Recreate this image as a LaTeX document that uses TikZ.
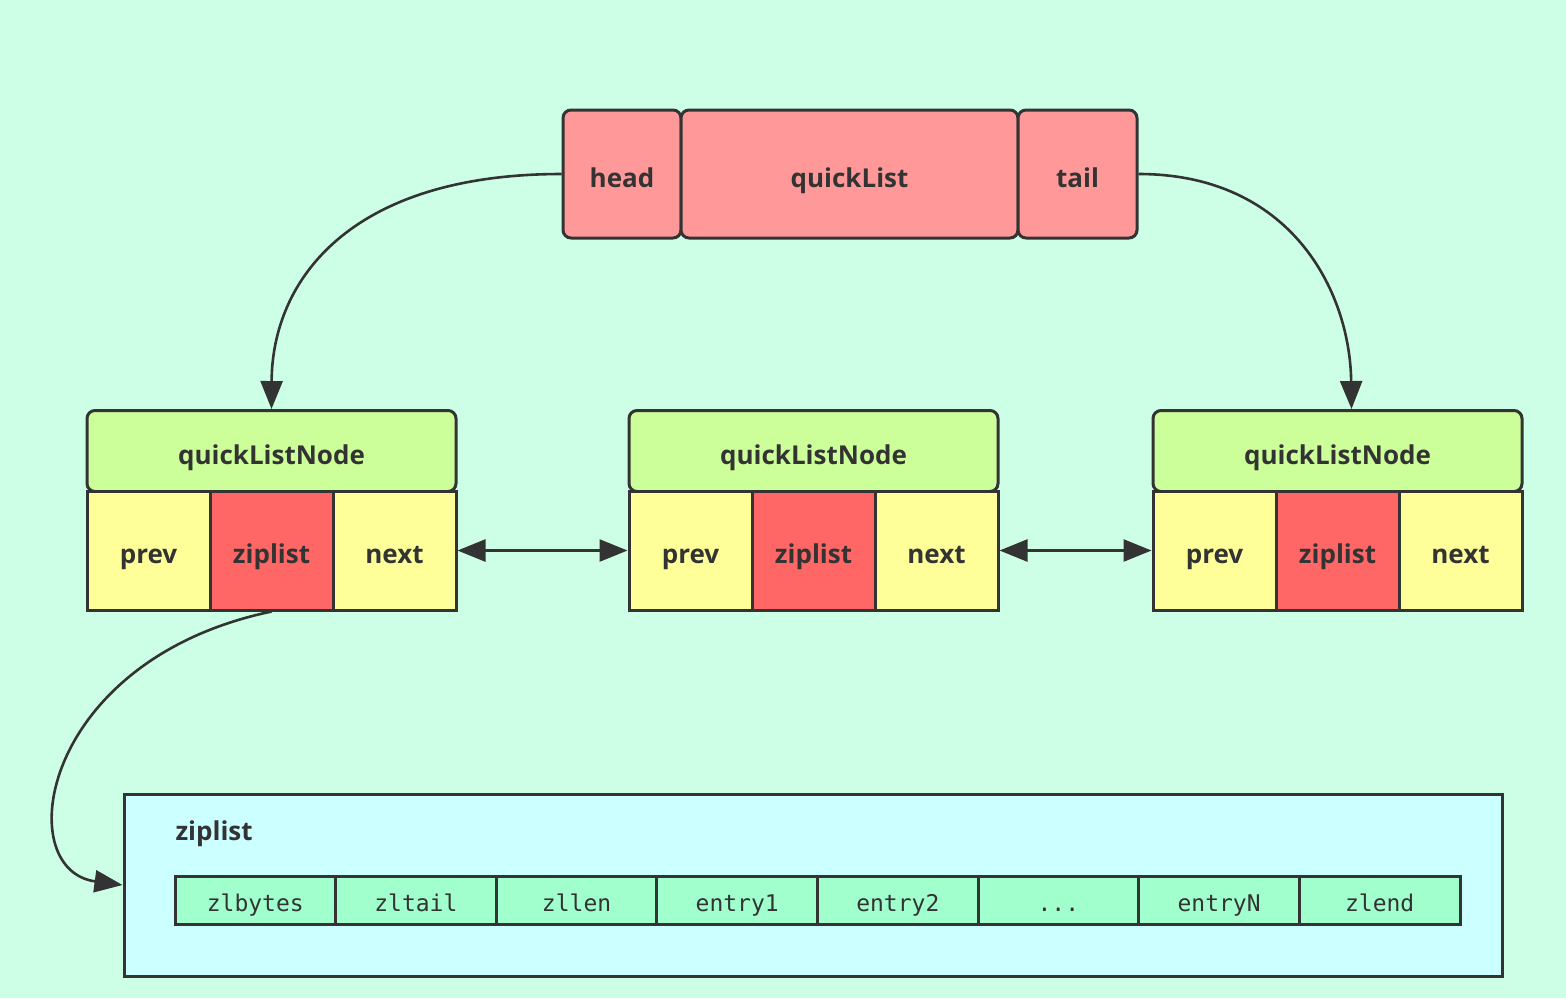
\documentclass[tikz,border=0pt]{standalone}
\usepackage{fontspec}
\setmainfont{Open Sans}
\newfontfamily\entryfont{DejaVu Sans Mono}
\usetikzlibrary{arrows.meta}
\definecolor{bgc}{HTML}{CCFFE6}
\definecolor{linec}{HTML}{333333}
\definecolor{headc}{HTML}{FF9999}
\definecolor{greenc}{HTML}{CCFF99}
\definecolor{yellowc}{HTML}{FFFF99}
\definecolor{redc}{HTML}{FF6666}
\definecolor{zipc}{HTML}{CCFFFF}
\definecolor{entc}{HTML}{A0FFCC}
\newcommand\zldots{...}
\tikzset{
  cell/.style={draw=linec, line width=1.5pt, inner sep=0pt, text=linec, text height=13pt, text depth=0pt, font=\bfseries\fontsize{13}{15}\selectfont},
  topcell/.style={cell, fill=headc, rounded corners=4pt, minimum height=64pt},
  hdr/.style={cell, fill=greenc, rounded corners=4pt, minimum width=184.5pt, minimum height=40.5pt},
  ptrcell/.style={cell, fill=yellowc, minimum width=61.5pt, minimum height=59.5pt},
  zipcell/.style={cell, fill=redc, minimum width=61.5pt, minimum height=59.5pt},
  entcell/.style={draw=linec, line width=1.5pt, inner sep=0pt, fill=entc, text=linec, text height=11pt, text depth=0pt, minimum width=80.3pt, minimum height=24pt, font=\entryfont\fontsize{11.5}{13}\selectfont},
  tip/.tip={Triangle[length=14pt,width=11pt]},
  conn/.style={draw=linec, line width=1.3pt, -tip},
  dconn/.style={draw=linec, line width=1.3pt, tip-tip}
}
\newcommand\qlnodebox[2]{%
  \node[hdr] (#1h) at (#2+184.5,451) {quickListNode};
  \node[ptrcell] (#1p) at (#2+61.5,550.5) {prev};
  \node[zipcell] (#1z) at (#2+184.5,550.5) {ziplist};
  \node[ptrcell] (#1n) at (#2+307.5,550.5) {next};
}
\begin{document}
\begin{tikzpicture}[x=0.5pt,y=-0.5pt]
\fill[bgc] (0,0) rectangle (1566,998);
\useasboundingbox (0,0) rectangle (1566,998);
% top quickList
\node[topcell, minimum width=59pt] (head) at (622,174) {head};
\node[topcell, minimum width=168.5pt] (ql) at (849.5,174) {quickList};
\node[topcell, minimum width=59.5pt] (tail) at (1077.5,174) {tail};
% nodes
\qlnodebox{a}{87}
\qlnodebox{b}{629}
\qlnodebox{c}{1153}
% ziplist box
\node[cell, fill=zipc, minimum width=689pt, minimum height=91pt] (zbox) at (813,885) {};
\node[cell, draw=none, anchor=west] (zlabel) at (174,827) {ziplist};
\node[entcell] (e0) at (255.3,900) {zlbytes};
\node[entcell] (e1) at (415.9,900) {zltail};
\node[entcell] (e2) at (576.6,900) {zllen};
\node[entcell] (e3) at (737.2,900) {entry1};
\node[entcell] (e4) at (897.8,900) {entry2};
\node[entcell] (e5) at (1058.4,900) {\zldots};
\node[entcell] (e6) at (1219.1,900) {entryN};
\node[entcell] (e7) at (1379.7,900) {zlend};
% connectors
\draw[conn] (head.west) .. controls (350,174) and (272,280) .. (ah.north);
\draw[conn] (tail.east) .. controls (1290,174) and (1350,290) .. ([xshift=7pt]ch.north);
\draw[dconn] (an.east) -- (bp.west);
\draw[dconn] (bn.east) -- (cp.west);
\draw[conn] (az.south) .. controls (40,660) and (10,870) .. (zbox.west);
\end{tikzpicture}
\end{document}
